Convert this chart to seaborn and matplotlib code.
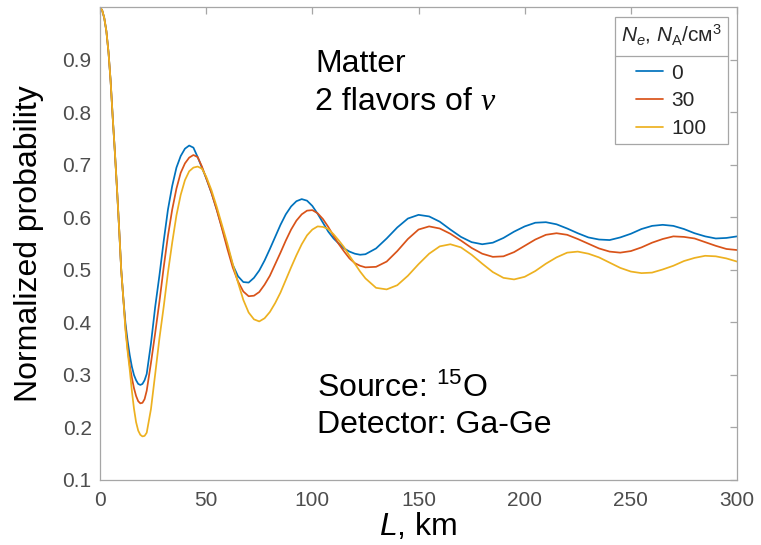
import matplotlib
matplotlib.use("Agg")
import matplotlib.pyplot as plt
import pandas as pd
import seaborn as sns
from matplotlib.lines import Line2D

# distance grid, km (denser where the curves bend sharply)
L_KM = [0, 1, 2, 3, 4, 5, 6, 7, 8, 9, 10, 11, 12, 13, 14, 15, 16, 17, 18, 19, 20, 21, 22,
        24, 26, 28, 30, 32, 34, 36, 38, 40, 42, 44, 46, 48,
        50, 52.5, 55, 57.5, 60, 62.5, 65, 67.5, 70, 72.5, 75, 77.5, 80, 82.5, 85, 87.5,
        90, 92.5, 95, 97.5, 100, 102.5, 105, 107.5, 110, 112.5, 115, 117.5, 120, 122.5, 125,
        130, 135, 140, 145, 150, 155, 160, 165, 170, 175, 180, 185, 190, 195, 200,
        205, 210, 215, 220, 225, 230, 235, 240, 245, 250, 255, 260, 265, 270, 275,
        280, 285, 290, 295, 300]

# normalized probability
P_NE_0 = [1.0, 0.995, 0.98, 0.955, 0.915, 0.86, 0.79, 0.725, 0.655, 0.58, 0.5, 0.445,
          0.398, 0.365, 0.338, 0.316, 0.3, 0.29, 0.283, 0.281, 0.283, 0.29, 0.302,
          0.36, 0.43, 0.49, 0.555, 0.615, 0.66, 0.695, 0.717, 0.731, 0.737, 0.733, 0.715, 0.695,
          0.675, 0.647, 0.615, 0.58, 0.545, 0.51, 0.488, 0.477, 0.476, 0.485, 0.499, 0.518,
          0.54, 0.563, 0.586, 0.606, 0.621, 0.631, 0.635, 0.632, 0.622, 0.607, 0.59, 0.573,
          0.56, 0.55, 0.541, 0.535, 0.531, 0.529, 0.53,
          0.541, 0.56, 0.581, 0.598, 0.605, 0.602, 0.592, 0.577, 0.563, 0.553, 0.549, 0.552,
          0.561, 0.573, 0.583, 0.59, 0.591, 0.587, 0.579, 0.57, 0.562, 0.558, 0.557, 0.562,
          0.569, 0.578, 0.584, 0.586, 0.584, 0.578, 0.57, 0.564, 0.56, 0.561, 0.564]
P_NE_30 = [1.0, 0.995, 0.98, 0.955, 0.915, 0.86, 0.79, 0.725, 0.655, 0.58, 0.5, 0.445,
           0.39, 0.35, 0.318, 0.295, 0.275, 0.26, 0.25, 0.246, 0.247, 0.254, 0.27,
           0.323, 0.38, 0.44, 0.505, 0.565, 0.615, 0.655, 0.685, 0.703, 0.714, 0.719, 0.715, 0.697,
           0.675, 0.647, 0.614, 0.578, 0.54, 0.505, 0.478, 0.459, 0.45, 0.451, 0.458, 0.472,
           0.489, 0.511, 0.533, 0.556, 0.577, 0.594, 0.606, 0.613, 0.614, 0.608, 0.597, 0.582,
           0.565, 0.549, 0.535, 0.522, 0.513, 0.508, 0.505,
           0.506, 0.516, 0.536, 0.559, 0.577, 0.583, 0.579, 0.569, 0.556, 0.542, 0.531, 0.525,
           0.526, 0.534, 0.546, 0.558, 0.567, 0.57, 0.567, 0.559, 0.55, 0.541, 0.535, 0.533,
           0.536, 0.543, 0.552, 0.559, 0.564, 0.563, 0.56, 0.553, 0.546, 0.54, 0.538]
P_NE_100 = [1.0, 0.995, 0.98, 0.955, 0.915, 0.86, 0.79, 0.725, 0.655, 0.58, 0.5, 0.445,
            0.385, 0.345, 0.31, 0.27, 0.236, 0.21, 0.194, 0.186, 0.183, 0.184, 0.19,
            0.235, 0.302, 0.37, 0.43, 0.495, 0.552, 0.604, 0.643, 0.671, 0.688, 0.695, 0.697, 0.693,
            0.678, 0.652, 0.62, 0.585, 0.55, 0.512, 0.476, 0.443, 0.419, 0.406, 0.402, 0.408,
            0.42, 0.437, 0.457, 0.481, 0.505, 0.528, 0.549, 0.566, 0.577, 0.583, 0.582, 0.578,
            0.568, 0.556, 0.543, 0.527, 0.512, 0.497, 0.484,
            0.466, 0.463, 0.471, 0.489, 0.511, 0.531, 0.545, 0.549, 0.543, 0.529, 0.512, 0.496,
            0.485, 0.482, 0.487, 0.498, 0.512, 0.524, 0.533, 0.535, 0.531, 0.524, 0.514, 0.504,
            0.497, 0.494, 0.495, 0.501, 0.508, 0.517, 0.523, 0.527, 0.526, 0.522, 0.516]

DENSITIES = ["0", "30", "100"]
COLORS = ["#0072BD", "#D95319", "#EDB120"]

X_TICKS = [0, 50, 100, 150, 200, 250, 300]
Y_TICKS = [0.1, 0.2, 0.3, 0.4, 0.5, 0.6, 0.7, 0.8, 0.9]

AXIS_GREY = "#a6a6a6"
LABEL_GREY = "#4d4d4d"
BIG = 23

sns.set_theme(style="white", rc={"figure.facecolor": "white",
                                 "axes.facecolor": "white",
                                 "lines.solid_joinstyle": "round"})
plt.rcParams["font.family"] = ["Liberation Sans", "DejaVu Sans"]
plt.rcParams["mathtext.fontset"] = "custom"
plt.rcParams["mathtext.rm"] = "Liberation Sans"
plt.rcParams["mathtext.it"] = "Liberation Sans:italic"
plt.rcParams["mathtext.bf"] = "Liberation Sans:bold"

series = {"0": P_NE_0, "30": P_NE_30, "100": P_NE_100}
df = pd.concat([pd.DataFrame({"L": L_KM, "P": vals, "Ne": name})
                for name, vals in series.items()], ignore_index=True)

fig = plt.figure(figsize=(7.61, 5.45), dpi=100)
ax = fig.add_axes([0.1314, 0.1193, 0.8371, 0.8670])

sns.lineplot(data=df, x="L", y="P", hue="Ne", hue_order=DENSITIES,
             palette=COLORS, linewidth=1.25, errorbar=None, ax=ax)

ax.set(xlim=(0, 300), ylim=(0.1, 1.0))
ax.set_xticks(X_TICKS)
ax.set_yticks(Y_TICKS)
for side in ["left", "right", "top", "bottom"]:
    ax.spines[side].set_visible(True)
    ax.spines[side].set_color(AXIS_GREY)
    ax.spines[side].set_linewidth(0.9)
ax.tick_params(direction="in", top=True, right=True, length=5, width=0.9,
               color=AXIS_GREY, labelsize=15, labelcolor=LABEL_GREY)
ax.tick_params(axis="x", pad=8)
ax.tick_params(axis="y", pad=6)

ax.set_xlabel("$L$, km", fontsize=BIG, color="black")
ax.set_ylabel("Normalized probability", fontsize=BIG, color="black")
ax.xaxis.set_label_coords(0.5, -0.066)
ax.yaxis.set_label_coords(-0.088, 0.5)

# annotations
ax.text(101.3, 0.878, "Matter", fontsize=BIG, color="black")
t2 = ax.text(101.3, 0.805, "2 flavors of", fontsize=BIG, color="black")
ax.annotate("\u03bd", xy=(1, 0), xycoords=t2, xytext=(6, 0),
            textcoords="offset points", va="bottom", ha="left",
            fontsize=BIG, family="Liberation Serif", style="italic", color="black")
ax.text(102, 0.259, "Source: $^{15}$O", fontsize=BIG, color="black")
ax.text(102, 0.189, "Detector: Ga-Ge", fontsize=BIG, color="black")

sns.move_legend(ax, "upper right", bbox_to_anchor=(0.986, 0.98),
                title="$N_e$, $N_\\mathrm{A}$/см$^3$",
                frameon=True, fancybox=False, framealpha=1,
                edgecolor=AXIS_GREY, fontsize=15, title_fontsize=15,
                handlelength=1.3, handletextpad=0.4, labelspacing=0.42,
                borderpad=0.3, borderaxespad=0)
leg = ax.get_legend()
leg.get_frame().set_linewidth(0.9)
for line in leg.get_lines():
    line.set_linewidth(1.25)
leg._legend_box.sep = 11

# MATLAB-style rule under the legend title
fig.canvas.draw()
renderer = fig.canvas.get_renderer()
leg_bb = leg.get_window_extent(renderer)
title_bb = leg.get_title().get_window_extent(renderer)
first_bb = leg.get_texts()[0].get_window_extent(renderer)
y_sep = (title_bb.y0 + first_bb.y1) / 2
to_axes = ax.transAxes.inverted()
(x0, y0), (x1, _) = to_axes.transform([(leg_bb.x0, y_sep), (leg_bb.x1, y_sep)])
ax.add_line(Line2D([x0, x1], [y0, y0], transform=ax.transAxes, color=AXIS_GREY,
                   lw=0.9, zorder=10, clip_on=False))

fig.savefig("out.png", dpi=100)
